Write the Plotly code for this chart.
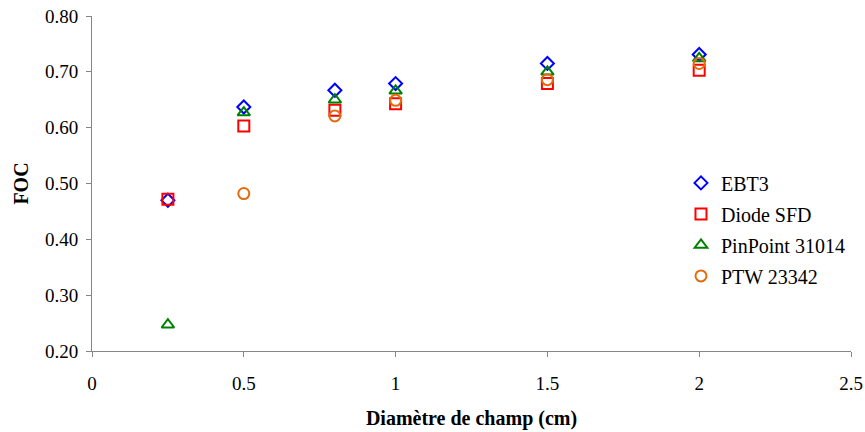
import plotly.graph_objects as go

diam = [0.25, 0.5, 0.8, 1.0, 1.5, 2.0]
ebt3 = [0.470, 0.637, 0.667, 0.679, 0.715, 0.731]
diode = [0.472, 0.603, 0.631, 0.643, 0.679, 0.703]
pinpoint = [0.247, 0.627, 0.650, 0.666, 0.700, 0.724]
ptw = [None, 0.482, 0.621, 0.649, 0.686, 0.715]

x_ticks = [0, 0.5, 1, 1.5, 2, 2.5]
x_ticktext = ["0", "0.5", "1", "1.5", "2", "2.5"]
y_ticks = [0.2, 0.3, 0.4, 0.5, 0.6, 0.7, 0.8]
y_ticktext = ["0.20", "0.30", "0.40", "0.50", "0.60", "0.70", "0.80"]

series = [
    ("EBT3", ebt3, "diamond-open", "#0000FF", 10),
    ("Diode SFD", diode, "square-open", "#FF0000", 11),
    ("PinPoint 31014", pinpoint, "triangle-up-open", "#008000", 11),
    ("PTW 23342", ptw, "circle-open", "#E46C0A", 11),
]

FONT = "Liberation Serif"
fig = go.Figure()
for i, (name, ys, sym, col, sz) in enumerate(series):
    fig.add_trace(go.Scatter(
        x=diam, y=ys, mode="markers", name=name, legendgroup=f"g{i}",
        marker=dict(symbol=sym, color=col, size=sz, line=dict(color=col, width=2)),
    ))

fig.update_layout(
    width=865, height=432,
    margin=dict(l=92, r=14, t=16, b=81),
    paper_bgcolor="white", plot_bgcolor="white",
    font=dict(family=FONT, size=19, color="#000000"),
    showlegend=True,
    legend=dict(x=0.776, y=0.56, xanchor="left", yanchor="top",
                font=dict(family=FONT, size=20, color="#000000"),
                bgcolor="rgba(0,0,0,0)", tracegroupgap=2,
                itemwidth=30),
    xaxis=dict(range=[0, 2.5], tickvals=x_ticks, ticktext=x_ticktext,
               showgrid=False, zeroline=False, showline=True,
               linecolor="#868686", linewidth=1, automargin=False,
               ticks="outside", ticklen=5, tickcolor="#868686",
               ticklabelstandoff=10, ticklabeloverflow="allow",
               tickfont=dict(family=FONT, size=19),
               title=dict(text="<b>Diamètre de champ (cm)</b>", standoff=18,
                          font=dict(family=FONT, size=20))),
    yaxis=dict(range=[0.2, 0.8], tickvals=y_ticks, ticktext=y_ticktext,
               showgrid=False, zeroline=False, showline=True,
               linecolor="#868686", linewidth=1, automargin=False,
               ticks="outside", ticklen=5, tickcolor="#868686",
               ticklabelstandoff=4, ticklabeloverflow="allow",
               tickfont=dict(family=FONT, size=19),
               title=dict(text="<b>FOC</b>", standoff=10,
                          font=dict(family=FONT, size=20))),
)
# remove the page's default 8px body margin so the figure fills the window
fig.write_html("out.html", config={"displayModeBar": False},
               post_script="document.body.style.margin='0px';")
